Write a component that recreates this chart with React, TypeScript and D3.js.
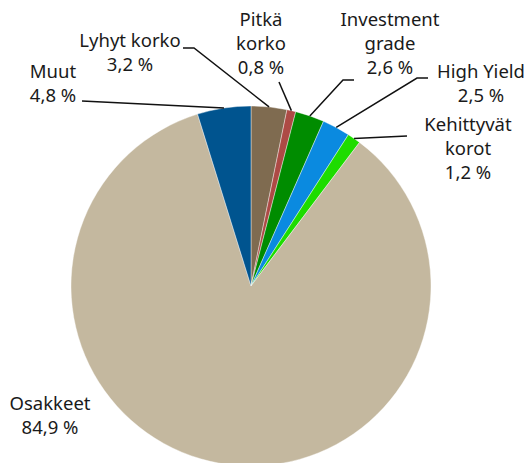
import React from "react";
import * as d3 from "d3";

const categories = ["Lyhyt korko", "Pitkä korko", "Investment grade", "High Yield", "Kehittyvät korot", "Osakkeet", "Muut"];
const values = [3.2, 0.8, 2.6, 2.5, 1.2, 84.9, 4.8];
const labelLines = [
  ["Lyhyt korko", "3,2 %"],
  ["Pitkä", "korko", "0,8 %"],
  ["Investment", "grade", "2,6 %"],
  ["High Yield", "2,5 %"],
  ["Kehittyvät", "korot", "1,2 %"],
  ["Osakkeet", "84,9 %"],
  ["Muut", "4,8 %"],
];
const colors = ["#7f6b50", "#ad4a45", "#008c00", "#0a8ae0", "#1edc00", "#c4b89f", "#00548f"];

// label layout: text center x, first baseline y, leader (elbow) points
const labelLayout = [
  { x: 130, y: 47, leader: [[183, 48], [194, 48]] },
  { x: 261, y: 26, leader: [[279, 82]] },
  { x: 390, y: 26, leader: [[354, 80], [343, 80]] },
  { x: 481, y: 78, leader: [[428, 78], [417, 78]] },
  { x: 468, y: 131, leader: [[407, 136]] },
  { x: 50, y: 410, leader: null },
  { x: 53, y: 78, leader: [[82, 101]] },
];

const W = 532, H = 463;
const cx = 251, cy = 286, R = 180;
const lineH = 24;

export default function App() {
  const pie = d3.pie<number>().sort(null).value((d) => d)(values);
  const arc = d3.arc<d3.PieArcDatum<number>>().innerRadius(0).outerRadius(R);
  return (
    <svg width={W} height={H} style={{ position: "absolute", left: 0, top: 0, fontFamily: "'Noto Sans', sans-serif" }}>
      <rect width={W} height={H} fill="#fff" />
      <g transform={`translate(${cx},${cy})`}>
        {pie.map((p, i) => (
          <path key={i} d={arc(p) || ""} fill={colors[i]} stroke="#fff" strokeWidth={0.4} />
        ))}
      </g>
      {pie.map((p, i) => {
        const L = labelLayout[i];
        if (!L.leader) return null;
        const a = (p.startAngle + p.endAngle) / 2;
        const px = cx + R * Math.sin(a);
        const py = cy - R * Math.cos(a);
        const pts2 = [...L.leader, [px, py]];
        return (
          <polyline key={i} points={pts2.map((q) => q.join(",")).join(" ")} fill="none" stroke="#111" strokeWidth={1.5} />
        );
      })}
      {labelLayout.map((L, i) => (
        <text key={i} textAnchor="middle" fontSize={18.5} fill="#1a1a1a">
          {labelLines[i].map((t, j) => (
            <tspan key={j} x={L.x} y={L.y + j * lineH}>{t}</tspan>
          ))}
        </text>
      ))}
    </svg>
  );
}
